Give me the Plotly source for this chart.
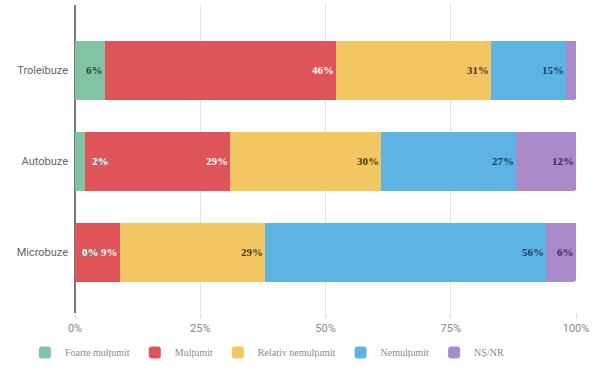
import plotly.graph_objects as go

categories = ["Troleibuze", "Autobuze", "Microbuze"]
series_names = ["Foarte mulțumit", "Mulțumit", "Relativ nemulțumit", "Nemulțumit", "NȘ/NR"]
foarte = [6, 2, 0]
multumit = [46, 29, 9]
relativ = [31, 30, 29]
nemultumit = [15, 27, 56]
nsnr = [2, 12, 6]
show_label = [[True, True, True], [True, True, True], [True, True, True], [True, True, True], [False, True, True]]
tick_vals = [0, 25, 50, 75, 100]
tick_text = ["0%", "25%", "50%", "75%", "100%"]

colors = ["#82c3a3", "#df5459", "#f1c663", "#5db4e3", "#a98bc9"]
text_colors = ["#1c4a33", "#ffffff", "#4d3a0e", "#1b3a5a", "#3a2a52"]

values = [foarte, multumit, relativ, nemultumit, nsnr]

fig = go.Figure()
for name, vals, c in zip(series_names, values, colors):
    fig.add_trace(go.Bar(
        y=categories, x=vals, name=name, orientation="h",
        marker=dict(color=c, line=dict(width=0)),
        hoverinfo="x+name",
    ))

# labels at the end of each segment
annotations = []
cum = [0, 0, 0]
for si, vals in enumerate(values):
    for ci, v in enumerate(vals):
        cum[ci] += v
        if not show_label[si][ci]:
            continue
        small = v < 5
        annotations.append(dict(
            x=cum[ci], y=categories[ci], xref="x", yref="y",
            text=f"{v}%", showarrow=False,
            xanchor="left" if small else "right",
            xshift=6 if small else -1,
            borderpad=0,
            font=dict(family="Liberation Serif, DejaVu Serif, serif", size=11,
                      color="#ffffff" if small else text_colors[si],
                      weight="bold",
                      shadow=("1px 1px 1px " + colors[si]) if not small else "0px 0px 2px #3aa",
                      ),
        ))

fig.update_layout(
    width=594, height=372,
    margin=dict(l=75, r=14, t=5, b=54),
    paper_bgcolor="white", plot_bgcolor="white",
    barmode="stack", bargap=0.35,
    barcornerradius=2,
    annotations=annotations,
    showlegend=True,
    legend=dict(orientation="h", x=-0.1, xanchor="left", y=-0.128, yanchor="middle",
                font=dict(family="Liberation Serif, DejaVu Serif, serif", size=10, color="#8a8a8a"),
                itemwidth=30, traceorder="normal", itemclick=False),
    font=dict(family="Roboto, Open Sans, sans-serif", size=11, color="#777777"),
)
fig.update_xaxes(
    range=[0, 100], tickvals=tick_vals, ticktext=tick_text,
    showgrid=True, gridcolor="#e4e4e4", gridwidth=1,
    zeroline=True, zerolinecolor="#777777", zerolinewidth=1.5,
    ticks="outside", ticklen=5, tickcolor="#dddddd",
    tickfont=dict(family="Roboto, sans-serif", size=11, color="#888888"),
    showline=False, fixedrange=True,
)
fig.update_yaxes(
    categoryorder="array", categoryarray=categories,
    range=[2.67, -0.72],
    showgrid=False, ticks="", showline=False, ticklabelstandoff=6,
    tickfont=dict(family="Roboto, sans-serif", size=11, color="#666666"),
    fixedrange=True,
)

fig.write_html("out.html")
